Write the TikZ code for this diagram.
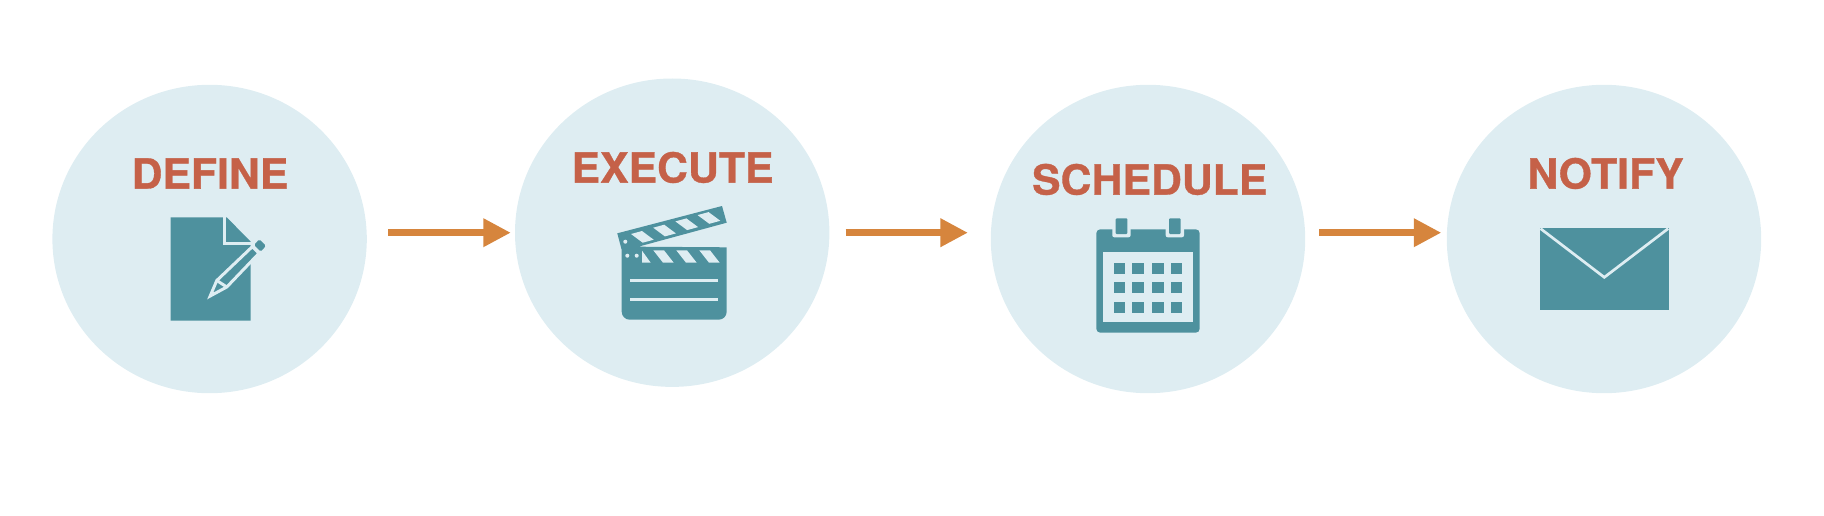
\documentclass[tikz,border=0pt]{standalone}
\usepackage{fontspec}
\setmainfont[BoldFeatures={FakeBold=0.8,FakeStretch=1.03}]{TeX Gyre Heros}
\usepackage{tikz}
\usetikzlibrary{shapes}
\usetikzlibrary{arrows.meta}
\definecolor{bubblefill}{HTML}{DEEDF2}
\definecolor{icon}{HTML}{4E919E}
\definecolor{title}{HTML}{C56148}
\definecolor{flow}{HTML}{D6853D}
\begin{document}
\begin{tikzpicture}[x=1pt,y=-1pt]
\tikzstyle{bubble}=[ellipse,fill=bubblefill,minimum width=314.4pt,minimum height=308.4pt,inner sep=0pt]
\tikzstyle{heading}=[anchor=base,inner sep=0pt,text=title,font=\fontsize{41.5}{43}\selectfont\bfseries]
\tikzstyle{flowarrow}=[draw=flow,line width=6.7pt,-{Triangle[length=27.5pt,width=27pt]}]
\useasboundingbox (0,0) rectangle (1824,516);
\node [bubble] (define) at (209.6,239) {};
\node [bubble] (execute) at (672.2,232.7) {};
\node [bubble] (schedule) at (1148,239) {};
\node [bubble] (notify) at (1604,239) {};
\node [heading] (definetext) at (210,188.6) {DEFINE};
\node [heading] (executetext) at (672.5,182.6) {EXECUTE};
\node [heading] (scheduletext) at (1149.7,194.6) {SCHEDULE};
\node [heading] (notifytext) at (1605.5,188.6) {NOTIFY};
\draw [flowarrow,shorten <=21.4pt,shorten >=4pt] (define.east |- execute.west) -- (execute.west);
\draw [flowarrow,shorten <=16pt,shorten >=22.7pt] (execute.east) -- (schedule.west |- execute.east);
\draw [flowarrow,shorten <=14pt,shorten >=5.3pt] (schedule.east |- execute.east) -- (notify.west |- execute.east);
\fill [icon] (170.7,217.3) -- (226.7,217.3) -- (250.7,241.7) -- (250.7,320.7) -- (170.7,320.7) -- cycle;
\draw [bubblefill,line width=3.3pt] (224.5,217.3) -- (224.5,243.3) -- (250.7,243.3);
\draw [bubblefill,fill=icon,line width=3pt,miter limit=20] (210.2,296) -- (216.8,280.5) -- (252.4,246.6) -- (259,253.3) -- (226.8,287) -- cycle;
\draw [bubblefill,line width=3pt] (216.8,280.5) -- (226.8,287);
\fill [icon,rounded corners=1.5pt] (259.3,239.3) -- (266,245.7) -- (260.7,251.7) -- (254,245) -- cycle;
\fill [icon] (617.3,233.3) -- (722,206) -- (726.7,222.7) -- (638.3,246.7) -- (726.7,247.3) [rounded corners=8pt] -- (726.7,319.7) -- (621.7,319.7) [sharp corners] -- (621.7,250) -- cycle;
\foreach \i in {0,1,2,3} {
\fill [bubblefill,shift={(22.2*\i,-6.3*\i)}] (631,234) -- (642,231) -- (653.7,239.7) -- (642.7,242.7) -- cycle;
}
\foreach \i in {0,1,2} {
\fill [bubblefill,shift={(23*\i,0)}] (653.3,250.3) -- (664,250.3) -- (673.7,262.7) -- (663,262.7) -- cycle;
}
\fill [bubblefill] (642,250.7) -- (650.7,262.7) -- (642,262.7) -- cycle;
\fill [bubblefill] (625.3,241.7) circle (2pt);
\fill [bubblefill] (627.3,255.7) circle (2pt);
\fill [bubblefill] (636.7,255.7) circle (2pt);
\draw [bubblefill,line width=2.5pt] (630,280.7) -- (718,280.7);
\draw [bubblefill,line width=2.5pt] (630,299.3) -- (718,299.3);
\fill [icon,rounded corners=4pt] (1096.3,229.3) rectangle (1199.7,332.7);
\foreach \x in {1112.3,1165.7} {
\fill [bubblefill] (\x,225) -- (\x+18.3,225) [rounded corners=2pt] -- (\x+18.3,237.3) -- (\x,237.3) [sharp corners] -- cycle;
\fill [icon,rounded corners=1pt] (\x+3.4,218.3) rectangle (\x+15,234);
}
\fill [bubblefill] (1103.3,252) rectangle (1192.7,321.7);
\foreach \x in {1114,1132.3,1152.3,1170.7} {
\foreach \y in {263,282,302} {
\fill [icon] (\x,\y) rectangle (\x+11.3,\y+11.3);
}
}
\fill [icon] (1539.7,228.3) rectangle (1669,310);
\draw [bubblefill,line width=2.7pt] (1540.5,228.6) -- (1604.3,277.3) -- (1668.2,228.6);
\end{tikzpicture}
\end{document}
